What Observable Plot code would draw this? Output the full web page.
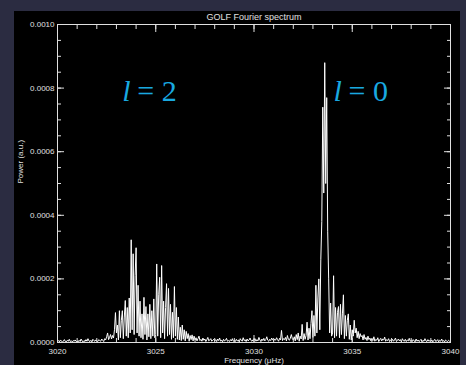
<!DOCTYPE html>
<html><head><meta charset="utf-8">
<script src="https://cdn.jsdelivr.net/npm/d3@7"></script>
<script src="https://cdn.jsdelivr.net/npm/@observablehq/plot@0.6"></script>
<style>
html,body{margin:0;padding:0;background:#2b2c41;width:466px;height:365px;overflow:hidden;}
#panel{position:absolute;left:14px;top:11px;width:446px;height:354px;background:#000;}
#panel svg{display:block;}
</style></head>
<body><div id="panel"></div>
<script>
// Power spectrum samples (units of 1e-6 a.u.), 0.05 µHz spacing from 3020 to 3040 µHz
const freqStart = 3020;
const freqStep = 0.05;
const powerE6 = [
  3,6,2,8,4,1,5,9,3,2,7,4,10,3,5,2,6,4,8,3,
  4,2,7,3,11,5,2,6,3,9,4,12,5,3,7,2,10,6,4,8,
  5,3,9,6,4,11,7,3,12,8,18,30,9,16,25,11,22,14,40,94,
  30,55,8,100,15,70,100,12,80,132,20,110,15,140,30,323,40,279,25,210,
  298,30,180,20,130,15,90,10,142,25,113,8,90,18,120,12,100,20,137,15,
  25,247,20,150,205,15,242,30,130,12,110,185,20,170,25,120,10,95,15,176,
  20,110,10,80,8,48,6,55,10,40,5,35,12,28,4,22,9,24,5,20,
  8,15,5,12,20,6,10,4,14,7,11,3,9,16,5,8,12,4,7,10,
  5,9,3,11,6,14,4,8,2,10,5,7,13,4,6,3,9,5,12,4,
  6,3,10,5,8,2,12,7,4,15,6,9,3,11,5,8,14,6,4,9,
  7,12,4,9,5,16,8,3,11,6,13,5,9,18,7,4,10,6,14,8,
  5,11,7,15,9,4,13,8,38,6,12,9,16,5,22,10,7,14,25,12,
  8,18,5,25,9,30,4,20,11,57,6,28,10,22,64,8,45,12,60,100,
  15,85,20,180,30,140,200,40,260,380,740,470,880,500,770,350,200,30,124,20,
  30,210,15,110,20,95,113,15,120,25,90,150,12,85,20,70,90,10,55,8,
  40,20,70,30,45,15,35,12,28,18,22,8,25,10,16,6,20,9,14,5,
  12,6,18,4,10,7,15,3,9,13,5,11,8,17,4,9,6,12,3,8,
  5,10,4,8,14,3,7,11,5,9,2,12,6,4,10,3,8,5,13,4,
  7,3,9,5,2,11,4,8,3,6,10,2,7,4,12,5,3,9,4,6,
  4,8,2,6,10,3,5,9,2,7,4,11,3,6,2,8,5,3,7,4,
  3
];
const xMajorTicks = [3020, 3025, 3030, 3035, 3040];
const xMinorTicks = d3.range(3020, 3041, 1);
const yMajorTicks = [0, 0.0002, 0.0004, 0.0006, 0.0008, 0.0010];
const yMinorTicks = d3.range(0, 0.00101, 0.00005);
const modeDegrees = ["2", "0"];
const modeLabelFreq = [3023.3, 3034.05];
const modeLabelPower = [0.00076, 0.00076];
const titleText = "GOLF Fourier spectrum";
const xLabel = "Frequency (\u03bcHz)";
const yLabel = "Power (a.u.)";

const spectrum = powerE6.map((p, i) => ({f: freqStart + i * freqStep, p: p * 1e-6}));
const modes = modeDegrees.map((d, i) => ({d, f: modeLabelFreq[i], p: modeLabelPower[i]}));

const fg = "#e0e0e0";
const fs = 8;
const tickOpts = (ticks, anchor, size) => ({anchor, ticks, tickSize: -size, tickFormat: () => "", label: null, stroke: fg});

const chart = Plot.plot({
  width: 446, height: 354,
  marginLeft: 43, marginRight: 10, marginTop: 13, marginBottom: 23,
  style: {background: "#000", color: fg, fontFamily: "Liberation Sans, Arial, sans-serif", fontSize: fs + "px"},
  x: {domain: [3020, 3040], label: null},
  y: {domain: [0, 0.001], label: null},
  marks: [
    Plot.lineY(spectrum, {x: "f", y: "p", stroke: "#fff", strokeWidth: 1}),
    Plot.frame({stroke: fg}),
    Plot.axisX(tickOpts(xMinorTicks, "bottom", 4)),
    Plot.axisX(tickOpts(xMajorTicks, "bottom", 7)),
    Plot.axisX(tickOpts(xMinorTicks, "top", 4)),
    Plot.axisX(tickOpts(xMajorTicks, "top", 7)),
    Plot.axisY(tickOpts(yMinorTicks, "left", 4)),
    Plot.axisY(tickOpts(yMajorTicks, "left", 7)),
    Plot.axisY(tickOpts(yMinorTicks, "right", 4)),
    Plot.axisY(tickOpts(yMajorTicks, "right", 7)),
    Plot.axisX({anchor: "bottom", ticks: xMajorTicks, tickSize: 0, tickPadding: 6, tickFormat: d => String(d), label: null, fill: fg, fontSize: fs}),
    Plot.axisY({anchor: "left", ticks: yMajorTicks, tickSize: 0, tickPadding: 3, tickFormat: d3.format(".4f"), label: null, fill: fg, fontSize: fs}),
    Plot.text([titleText], {frameAnchor: "top", dy: -7, fill: fg, fontSize: 9, lineAnchor: "middle"}),
    Plot.text([xLabel], {frameAnchor: "bottom", dy: 18, fill: fg, fontSize: fs, lineAnchor: "middle"}),
    Plot.text([yLabel], {frameAnchor: "left", dx: -37, rotate: -90, fill: fg, fontSize: fs, lineAnchor: "middle"}),
    Plot.text(modes, {x: "f", y: "p", text: () => "l", fontStyle: "italic", fontFamily: "Liberation Serif, Times New Roman, serif", fontSize: 30, fill: "#19a9e0", textAnchor: "start", lineAnchor: "bottom"}),
    Plot.text(modes, {x: "f", y: "p", text: d => "= " + d.d, dx: 15, fontFamily: "Liberation Serif, Times New Roman, serif", fontSize: 30, fill: "#19a9e0", textAnchor: "start", lineAnchor: "bottom"})
  ]
});
document.getElementById("panel").appendChild(chart);
</script>
</body></html>
